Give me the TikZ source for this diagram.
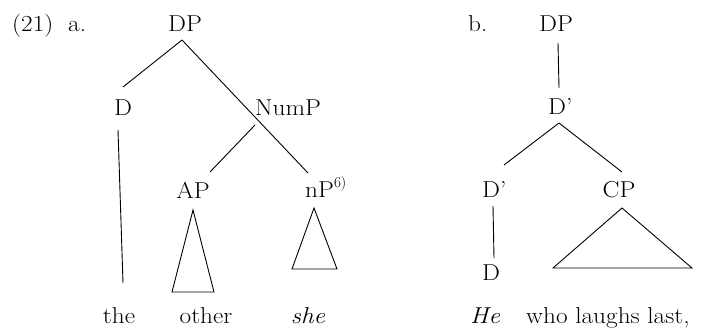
\documentclass[tikz,border=0pt]{standalone}
\usepackage{graphicx}
\usetikzlibrary{calc}
\newcommand\sx[1]{\scalebox{1.1}[1]{#1}}
\newcommand\supsix{\raisebox{10pt}{\fontsize{15}{15}\selectfont 6)}}
\tikzset{
  lbl/.style={font=\fontsize{23}{27}\selectfont, inner sep=0pt, anchor=base},
  lblw/.style={lbl, anchor=base west},
  edge/.style={draw, line width=0.9pt},
  tri/.style={draw, line width=0.9pt, line join=miter}
}
\begin{document}
\begin{tikzpicture}[x=1pt,y=-1pt]
\useasboundingbox (0,0) rectangle (723,331);
% ---- (21) a.
\node[lblw] (num) at (12,32) {\sx{(21)}};
\node[lblw] (la) at (68,32) {\sx{a.}};
\node[lbl] (dpa) at (185,32) {\sx{DP}};
\node[lbl] (d) at (123,116) {\sx{D}};
\node[lbl] (nump) at (288,116) {\sx{NumP}};
\node[lbl] (ap) at (193,199) {\sx{AP}};
\node[lblw] (np) at (305,198) {\sx{nP}\supsix};
\node[lbl] (the) at (119,323) {\sx{the}};
\node[lbl] (other) at (206,323) {\sx{other}};
\node[lbl] (she) at (308,323) {\sx{\itshape she}};
\draw[edge] ($(dpa.base)+(-3,8)$) -- ($(d.base)+(0,-29)$);
\draw[edge] ($(dpa.base)+(-3,8)$) -- ($(np.base west)+(3,-25)$);
\draw[edge] ($(nump.base)+(-33,9)$) -- ($(ap.base)+(17,-27)$);
\draw[edge] ($(d.base)+(-5,14)$) -- ($(the.base)+(4,-40)$);
\draw[tri] ($(ap.base)+(0,11)$) -- ($(ap.base)+(-21,93)$) -- ($(ap.base)+(21,93)$) -- cycle;
\draw[tri] ($(np.base west)+(9,10)$) -- ($(np.base west)+(-13,71)$) -- ($(np.base west)+(32,71)$) -- cycle;
% ---- b.
\node[lblw] (lb) at (468,32) {\sx{b.}};
\node[lbl] (dpb) at (556,32) {\sx{DP}};
\node[lblw] (dbar1) at (548,115) {\sx{D’}};
\node[lblw] (dbar2) at (482,198) {\sx{D’}};
\node[lbl] (cp) at (619,198) {\sx{CP}};
\node[lbl] (db) at (491,280) {\sx{D}};
\node[lblw] (he) at (470,323) {\sx{\itshape He}};
\node[lblw] (who) at (526,323) {\sx{who laughs last,}};
\draw[edge] ($(dpb.base)+(2,11)$) -- ($(dbar1.base west)+(11,-27)$);
\draw[edge] ($(dbar1.base west)+(11,8)$) -- ($(dbar2.base west)+(22,-33)$);
\draw[edge] ($(dbar1.base west)+(11,8)$) -- ($(cp.base)+(3,-26)$);
\draw[edge] ($(dbar2.base west)+(11,8)$) -- ($(db.base)+(3,-22)$);
\draw[tri] ($(cp.base)+(3,10)$) -- ($(cp.base)+(-66,70)$) -- ($(cp.base)+(73,70)$) -- cycle;
\end{tikzpicture}
\end{document}
